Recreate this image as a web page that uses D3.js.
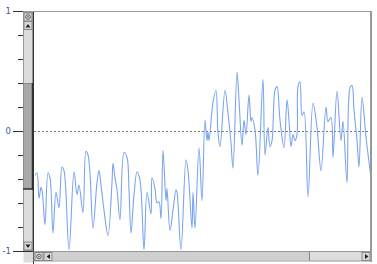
<!DOCTYPE html>
<html><head><meta charset="utf-8">
<script src="https://cdn.jsdelivr.net/npm/d3@7"></script>
<style>html,body{margin:0;padding:0;background:#fff;}svg{display:block;}</style>
</head><body>
<svg id="c" width="377" height="264"></svg>
<script>
// sample positions (time index) and signal values
const times = [1,3,5,7,8,11,14,16,19,22,25,28,30,35,40,43,45,49,52,54,56,59,63,65,67,70,74,78,79,81,83,86,90,93,95,97,100,103,106,110,113,117,118,121,123,125,127,129,132,133,136,139,142,143,147,152,154,158,159,161,165,168,171,173,174,175,179,182,184,186,191,194,197,199,203,205,208,210,212,215,217,218,221,224,229,231,234,236,238,241,243,246,250,253,255,257,259,261,263,264,266,268,270,274,279,283,287,292,294,297,299,303,307,309,313,316,318,320,323,325,328,332,337];
const values = [-0.37,-0.35,-0.56,-0.47,-0.49,-0.78,-0.35,-0.39,-0.85,-0.51,-0.64,-0.30,-0.33,-0.99,-0.34,-0.53,-0.45,-0.68,-0.17,-0.20,-0.35,-0.81,-0.43,-0.33,-0.45,-0.66,-0.87,-0.43,-0.27,-0.39,-0.49,-0.74,-0.18,-0.22,-0.49,-0.85,-0.53,-0.34,-0.41,-0.99,-0.51,-0.69,-0.39,-0.48,-0.60,-0.59,-0.73,-0.16,-0.58,-0.48,-0.83,-0.66,-0.49,-0.51,-0.99,-0.24,-0.33,-0.81,-0.51,-0.81,-0.14,-0.58,0.09,-0.08,-0.01,-0.08,0.24,0.34,-0.02,-0.13,0.34,0.15,-0.10,-0.31,0.49,0.26,-0.12,0.09,-0.03,0.30,0.08,0.11,0.01,-0.37,0.43,-0.20,0.03,-0.13,-0.08,0.34,0.37,0.09,-0.14,0.26,0.09,-0.13,-0.03,-0.08,-0.03,0.37,0.41,0.13,0.16,-0.55,0.23,0.03,-0.33,0.20,0.08,0.11,-0.22,0.33,-0.08,0.08,-0.43,0.36,0.38,0.18,-0.08,-0.30,0.28,-0.05,-0.39];
const yTickLabels = [-1, 0, 1];
const yMinorTicks = [-0.8,-0.6,-0.4,-0.2,0.2,0.4,0.6,0.8];

const svg = d3.select("#c");
const x = d3.scaleLinear().domain([0, 337]).range([34, 371]);
const y = d3.scaleLinear().domain([-1, 1]).range([251, 11]);

// zero dashed line
svg.append("line").attr("x1", 34).attr("x2", 371).attr("y1", y(0)+0.5).attr("y2", y(0)+0.5)
  .attr("stroke", "#777").attr("stroke-width", 1).attr("stroke-dasharray", "2,2");

// data line
const data = times.map((t, i) => [t, values[i]]);
svg.append("path").datum(data)
  .attr("fill", "none").attr("stroke", "#7ba4ee").attr("stroke-width", 1.1)
  .attr("d", d3.line().curve(d3.curveCatmullRom.alpha(0.5)).x(d => x(d[0])).y(d => y(d[1])));

// frame: top and right
svg.append("line").attr("x1", 13).attr("x2", 372).attr("y1", 11.5).attr("y2", 11.5).attr("stroke", "#9a9a9a").attr("stroke-width", 1.2);
svg.append("line").attr("x1", 371).attr("x2", 371).attr("y1", 11).attr("y2", 262).attr("stroke", "#999").attr("stroke-width", 2);

// y axis (major)
const ax = svg.append("g").attr("transform", "translate(23,0)")
  .call(d3.axisLeft(y).tickValues(yTickLabels).tickSize(10).tickPadding(2).tickFormat(d => String(d)));
ax.select(".domain").remove();
ax.selectAll("line").attr("stroke", "#333");
ax.selectAll("text").attr("fill", "#3d5c8a").style("font-family", "DejaVu Sans, sans-serif").style("font-size", "8.5px");
// minor ticks
const mx = svg.append("g").attr("transform", "translate(23,0)")
  .call(d3.axisLeft(y).tickValues(yMinorTicks).tickSize(5).tickFormat(""));
mx.select(".domain").remove();
mx.selectAll("line").attr("stroke", "#333");

// vertical scrollbar
const vs = svg.append("g");
vs.append("rect").attr("x", 23.5).attr("y", 12.5).attr("width", 9).attr("height", 238).attr("fill", "#dcdcdc").attr("stroke", "#999");
// thumb
vs.append("rect").attr("x", 23.5).attr("y", 83.5).attr("width", 9).attr("height", 105).attr("fill", "#a9a9a9").attr("stroke", "#8a8a8a");
vs.append("line").attr("x1", 32.5).attr("x2", 32.5).attr("y1", 83).attr("y2", 190).attr("stroke", "#333").attr("stroke-width", 1.5);
vs.append("line").attr("x1", 23).attr("x2", 33).attr("y1", 189).attr("y2", 189).attr("stroke", "#333").attr("stroke-width", 1.5);
// buttons
function btn(g, bx, by) {
  g.append("rect").attr("x", bx+0.5).attr("y", by+0.5).attr("width", 8).attr("height", 8).attr("fill", "#d8d8d8").attr("stroke", "#888");
}
btn(vs, 23.5, 12.5);
vs.append("circle").attr("cx", 28).attr("cy", 17).attr("r", 2.3).attr("fill", "none").attr("stroke", "#555").attr("stroke-width", 0.9);
vs.append("circle").attr("cx", 28).attr("cy", 17).attr("r", 0.8).attr("fill", "#555");
btn(vs, 23.5, 21);
vs.append("path").attr("d", "M25.5,27.5 L28,24 L30.5,27.5 Z").attr("fill", "#222");
btn(vs, 23.5, 241.5);
vs.append("path").attr("d", "M25.5,244.5 L28,248 L30.5,244.5 Z").attr("fill", "#222");

// bottom-left corner and horizontal scrollbar
svg.append("rect").attr("x", 23.5).attr("y", 251.5).attr("width", 10).attr("height", 11).attr("fill", "#dcdcdc");
svg.append("line").attr("x1", 33.5).attr("x2", 33.5).attr("y1", 12).attr("y2", 264).attr("stroke", "#333").attr("stroke-width", 1);
svg.append("line").attr("x1", 13).attr("x2", 34).attr("y1", 251.5).attr("y2", 251.5).attr("stroke", "#333");
const hs = svg.append("g");
hs.append("rect").attr("x", 34).attr("y", 251.5).attr("width", 337).attr("height", 9.5).attr("fill", "#dedede").attr("stroke", "#999");
hs.append("rect").attr("x", 53).attr("y", 252).attr("width", 256).attr("height", 8.5).attr("fill", "#cfcfcf");
hs.append("line").attr("x1", 309.5).attr("x2", 309.5).attr("y1", 252).attr("y2", 261).attr("stroke", "#888");
btn(hs, 34.5, 252);
hs.append("circle").attr("cx", 39).attr("cy", 256.5).attr("r", 2.3).attr("fill", "none").attr("stroke", "#555").attr("stroke-width", 0.9);
hs.append("circle").attr("cx", 39).attr("cy", 256.5).attr("r", 0.8).attr("fill", "#555");
btn(hs, 43.5, 252);
hs.append("path").attr("d", "M50,254 L46.5,256.5 L50,259 Z").attr("fill", "#222");
btn(hs, 361.5, 252);
hs.append("path").attr("d", "M365,254 L368.5,256.5 L365,259 Z").attr("fill", "#222");
</script>
</body></html>
